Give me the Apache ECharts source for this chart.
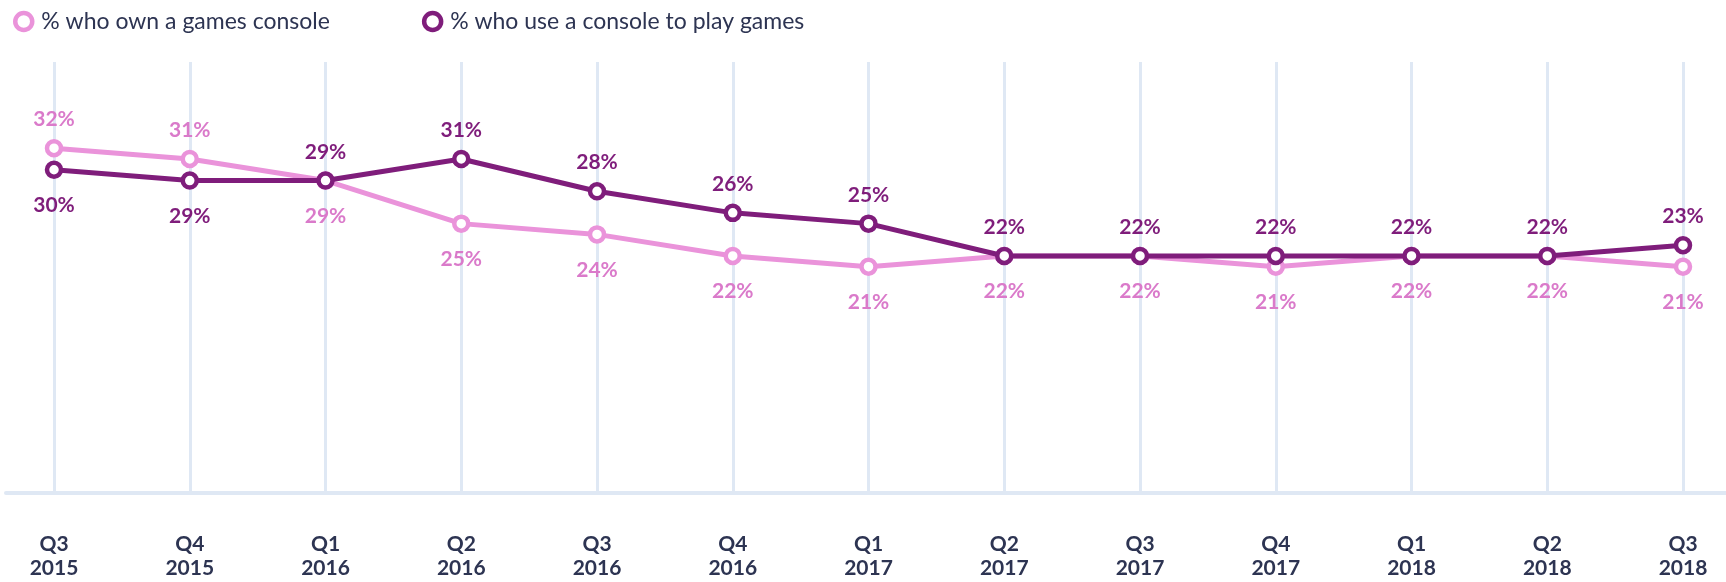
<!DOCTYPE html>
<html><head><meta charset="utf-8">
<script src="https://cdn.jsdelivr.net/npm/echarts@6/dist/echarts.min.js"></script>
<style>html,body{margin:0;padding:0;background:#fff}#c{width:1726px;height:582px}</style>
</head><body><div id="c"></div>
<script>
const categories = ['Q3\n2015','Q4\n2015','Q1\n2016','Q2\n2016','Q3\n2016','Q4\n2016','Q1\n2017','Q2\n2017','Q3\n2017','Q4\n2017','Q1\n2018','Q2\n2018','Q3\n2018'];
const ownConsole = [32,31,29,25,24,22,21,22,22,21,22,22,21];
const useConsole = [30,29,29,31,28,26,25,22,22,22,22,22,23];
const seriesNames = ['% who own a games console','% who use a console to play games'];

const PINK = '#ea93da', PINK_LABEL = '#da7aca', PURPLE = '#7f1d7b', TEXT = '#2d3452', GRIDC = '#dfe8f4';
const FONT = 'Lato';

function items(vals, other, isOwn) {
  return vals.map((v, i) => {
    const top = isOwn ? v > other[i] : v >= other[i];
    return { value: v, label: { position: top ? 'top' : 'bottom', distance: top ? 9 : 16 } };
  });
}

const chart = echarts.init(document.getElementById('c'));
chart.setOption({
  animation: false,
  grid: { left: 54, right: 43, top: 62, bottom: 89 },
  legend: {
    left: 8, top: 5, itemGap: 92, itemWidth: 17, itemHeight: 17,
    textStyle: { fontFamily: FONT, fontSize: 23, color: TEXT, padding: [0, 0, 0, 4] },
    data: [
      { name: seriesNames[0], icon: 'circle', itemStyle: { color: '#fff', borderColor: PINK, borderWidth: 4.5 } },
      { name: seriesNames[1], icon: 'circle', itemStyle: { color: '#fff', borderColor: PURPLE, borderWidth: 4.5 } }
    ]
  },
  xAxis: {
    type: 'category', data: categories, boundaryGap: false,
    axisLine: { show: false }, axisTick: { show: false },
    splitLine: { show: true, lineStyle: { color: GRIDC, width: 3 } },
    axisLabel: { margin: 39, fontFamily: FONT, fontSize: 21, fontWeight: 'bold', color: TEXT, lineHeight: 24, interval: 0 }
  },
  yAxis: { type: 'value', min: 0, max: 40, show: false, splitLine: { show: false } },
  graphic: [{
    type: 'line', z: 0, shape: { x1: 6, y1: 493, x2: 1726, y2: 493 },
    style: { stroke: GRIDC, lineWidth: 4, lineCap: 'round' }
  }],
  series: [
    {
      name: seriesNames[0], type: 'line', data: items(ownConsole, useConsole, true),
      symbol: 'circle', symbolSize: 14, z: 2,
      lineStyle: { color: PINK, width: 5 },
      itemStyle: { color: '#fff', borderColor: PINK, borderWidth: 4.5 },
      label: { show: true, formatter: p => p.value + '%', fontFamily: FONT, fontSize: 21, fontWeight: 'bold', color: PINK_LABEL }
    },
    {
      name: seriesNames[1], type: 'line', data: items(useConsole, ownConsole, false),
      symbol: 'circle', symbolSize: 14, z: 3,
      lineStyle: { color: PURPLE, width: 5 },
      itemStyle: { color: '#fff', borderColor: PURPLE, borderWidth: 4.5 },
      label: { show: true, formatter: p => p.value + '%', fontFamily: FONT, fontSize: 21, fontWeight: 'bold', color: PURPLE }
    }
  ]
});
</script></body></html>
